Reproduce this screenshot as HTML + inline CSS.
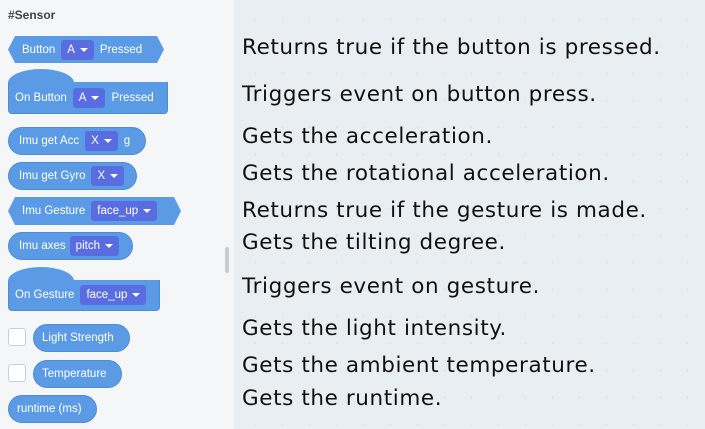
<html><head><style>
body{margin:0;width:705px;height:429px;overflow:hidden;font-family:"Liberation Sans",sans-serif;}
#l{position:absolute;left:0;top:0;width:234px;height:429px;background:#f4f6f7;}
#r{position:absolute;left:234px;top:0;width:471px;height:429px;background:#e9eef3;background-image:radial-gradient(#dde3ea 1px,transparent 1.2px);background-size:27px 27px;background-position:8px 6px;}
.b{position:absolute;background:#5b9be6;color:#fff;font-size:11.5px;display:flex;align-items:center;box-sizing:border-box;border:1px solid #4f8ad4;white-space:nowrap;}
.d{background:#5a6de0;border-radius:3px;height:20px;display:flex;align-items:center;padding:0 6px;margin:0 6px;}
.d:after{content:"";border:4px solid transparent;border-top:4px solid #fff;border-bottom:0;margin-left:5px;}
.pill{border-radius:14px;padding:0 10px;}
.hex{clip-path:polygon(7px 0,calc(100% - 7px) 0,100% 50%,calc(100% - 7px) 100%,7px 100%,0 50%);padding:0 14px;border:none;}
.hat{border-radius:0 0 4px 4px;padding:0 6px;border-top:none;}
.hat:before{content:"";position:absolute;left:-1px;top:-13px;width:66px;height:14px;background:#5b9be6;border-radius:33px 33px 0 0/14px 14px 0 0;}
.cb{position:absolute;left:8px;width:16px;height:16px;background:#fff;border:1px solid #ccd;border-radius:3px;}
.t{position:absolute;left:242px;font-family:"DejaVu Sans",sans-serif;font-size:21.5px;letter-spacing:0.6px;color:#111;white-space:nowrap;line-height:22px;}
</style></head><body>
<div id="l">
<div style="position:absolute;left:8px;top:8px;font-size:12px;font-weight:bold;color:#444">#Sensor</div>
<div class="b hex" style="left:8px;top:36px;width:156px;height:27px">Button<span class="d">A</span>Pressed</div>
<div class="b hat" style="left:8px;top:82px;width:160px;height:32px">On Button<span class="d">A</span>Pressed</div>
<div class="b pill" style="left:8px;top:127px;width:138px;height:28px">Imu get Acc<span class="d">X</span>g</div>
<div class="b pill" style="left:8px;top:162px;width:129px;height:28px">Imu get Gyro<span class="d">X</span></div>
<div class="b hex" style="left:8px;top:197px;width:173px;height:28px">Imu Gesture<span class="d">face_up</span></div>
<div class="b pill" style="left:8px;top:232px;width:125px;height:28px">Imu axes<span class="d" style="margin-left:4px">pitch</span></div>
<div class="b hat" style="left:8px;top:280px;width:152px;height:31px">On Gesture<span class="d">face_up</span></div>
<div class="cb" style="top:328px"></div>
<div class="b pill" style="left:33px;top:324px;width:97px;height:28px;padding:0 8px">Light Strength</div>
<div class="cb" style="top:364px"></div>
<div class="b pill" style="left:33px;top:360px;width:89px;height:28px;padding-left:8px">Temperature</div>
<div class="b pill" style="left:8px;top:395px;width:89px;height:28px;padding:0 8px">runtime (ms)</div>
<div style="position:absolute;left:225px;top:247px;width:4px;height:26px;background:#c8cbcf;border-radius:2px"></div>
</div>
<div id="r"></div>
<div class="t" style="top:37px">Returns true if the button is pressed.</div>
<div class="t" style="top:84px">Triggers event on button press.</div>
<div class="t" style="top:126px">Gets the acceleration.</div>
<div class="t" style="top:163px">Gets the rotational acceleration.</div>
<div class="t" style="top:200px">Returns true if the gesture is made.</div>
<div class="t" style="top:232px">Gets the tilting degree.</div>
<div class="t" style="top:276px">Triggers event on gesture.</div>
<div class="t" style="top:318px">Gets the light intensity.</div>
<div class="t" style="top:355px">Gets the ambient temperature.</div>
<div class="t" style="top:388px">Gets the runtime.</div>
</body></html>
